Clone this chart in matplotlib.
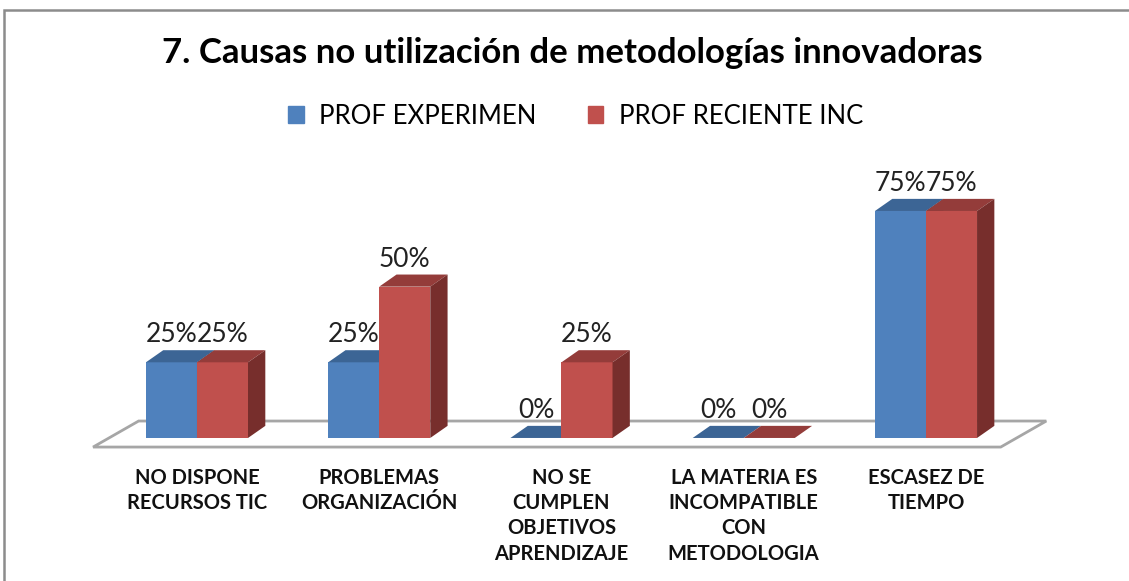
import matplotlib.pyplot as plt
from matplotlib.patches import Polygon, Rectangle

plt.rcParams['font.family'] = ['Lato', 'DejaVu Sans']

# data
categories = ['NO DISPONE\nRECURSOS TIC', 'PROBLEMAS\nORGANIZACIÓN',
              'NO SE\nCUMPLEN\nOBJETIVOS\nAPRENDIZAJE',
              'LA MATERIA ES\nINCOMPATIBLE\nCON\nMETODOLOGIA',
              'ESCASEZ DE\nTIEMPO']
series_names = ['PROF EXPERIMEN', 'PROF RECIENTE INC']
prof_experimen = [25, 25, 0, 0, 75]
prof_reciente = [25, 50, 25, 0, 75]

front = ['#4F81BD', '#C0504D']
top = ['#3C6595', '#943C3A']
side = ['#2F4F77', '#772E2C']

fig = plt.figure(figsize=(11.29, 5.81), dpi=100)
ax = fig.add_axes([0.0776, 0.1993, 0.8556, 0.5157])
ax.set_xlim(-0.6, 4.7)
ax.set_ylim(-9, 90)
ax.axis('off')

# fake 3D depth (data units)
w = 0.28
dx, dy = 0.095, 4.0

# floor
fdx, fdy = 0.25, 8.6
floor = Polygon([(-0.57, -3), (4.41, -3), (4.41 + fdx, -3 + fdy), (-0.57 + fdx, -3 + fdy)],
                closed=True, facecolor='white', edgecolor='#A6A6A6', lw=2, zorder=1)
ax.add_patch(floor)

for s, vals in enumerate([prof_experimen, prof_reciente]):
    xs = [i - w + s * w for i in range(len(vals))]
    ax.bar(xs, vals, width=w, align='edge', color=front[s], zorder=2 + s * 3)
    for x0, h in zip(xs, vals):
        x1 = x0 + w
        ax.add_patch(Polygon([(x0, h), (x1, h), (x1 + dx, h + dy), (x0 + dx, h + dy)],
                             closed=True, facecolor=top[s], edgecolor='none', zorder=3 + s * 3))
        if h > 0:
            ax.add_patch(Polygon([(x1, 0), (x1 + dx, dy), (x1 + dx, h + dy), (x1, h)],
                                 closed=True, facecolor=side[s], edgecolor='none', zorder=3 + s * 3))
        ax.text(x0 + w / 2, h + dy + 1.0, f'{h}%', ha='center', va='bottom',
                fontsize=19, color='#222222', zorder=10)

for i, lab in enumerate(categories):
    ax.text(i, -10.0, lab, ha='center', va='top', fontsize=14.5, fontweight='bold',
            linespacing=1.32, color='#111111')

# title and legend
fig.text(0.507, 0.908, '7. Causas no utilización de metodologías innovadoras',
         ha='center', va='center', fontsize=25, fontweight='bold')
handles = [Rectangle((0, 0), 1, 1, color=c) for c in front]
fig.legend(handles, series_names, loc='center', bbox_to_anchor=(0.51, 0.8), ncol=2,
           frameon=False, fontsize=18.5, handlelength=0.6, handleheight=0.6,
           columnspacing=2.0, handletextpad=0.6)

# chart border
fig.patches.append(Rectangle((4 / 1129, -0.05), 1.1, 1 - 10 / 581 + 0.05, transform=fig.transFigure,
                             fill=False, edgecolor='#8C8C8C', lw=1.8, figure=fig))

fig.savefig('out.png', dpi=100)
